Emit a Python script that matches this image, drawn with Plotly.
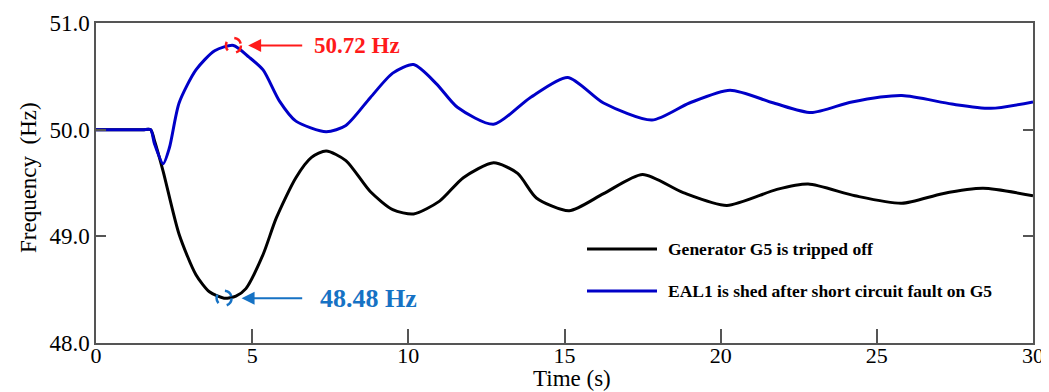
import plotly.graph_objects as go

# ---- data ----
t_gen = [0, 1.5, 1.75, 1.87, 2.15, 2.66, 3.2, 3.63, 4.1, 4.48, 4.8, 5.35, 5.77, 6.4, 6.9, 7.37, 8.0,
         8.78, 9.5, 10.17, 11.0, 11.76, 12.73, 13.5, 14.1, 15.15, 16.25, 17.5, 18.8,
         20.2, 21.8, 22.8, 24.3, 25.8, 27.1, 28.4, 30]
f_gen = [50.0, 50.0, 50.0, 49.90, 49.61, 49.02, 48.64, 48.48, 48.42, 48.44, 48.51, 48.83, 49.17, 49.55, 49.74, 49.80, 49.71,
         49.42, 49.25, 49.21, 49.33, 49.55, 49.69, 49.59, 49.36, 49.24, 49.40, 49.58, 49.41,
         49.29, 49.44, 49.49, 49.38, 49.31, 49.40, 49.45, 49.38]

t_eal = [0, 1.5, 1.75, 1.87, 2.15, 2.35, 2.66, 3.2, 3.8, 4.4, 4.9, 5.35, 5.87, 6.4, 7.37, 8.0,
         8.78, 9.5, 10.17, 10.9, 11.57, 12.73, 13.9, 15.1, 16.25, 17.8, 19.0, 20.3, 21.7, 22.9,
         24.2, 25.8, 27.4, 28.65, 30]
f_eal = [50.0, 50.0, 50.0, 49.87, 49.68, 49.83, 50.25, 50.56, 50.74, 50.79, 50.68, 50.56, 50.27, 50.08, 49.98, 50.04,
         50.30, 50.53, 50.61, 50.43, 50.21, 50.05, 50.30, 50.49, 50.25, 50.09, 50.25, 50.37, 50.25, 50.16,
         50.26, 50.32, 50.24, 50.20, 50.26]

names = ["Generator G5 is tripped off", "EAL1 is shed after short circuit fault on G5"]
peak = (4.4, 50.79)
trough = (4.1, 48.42)
peak_label = "50.72 Hz"
trough_label = "48.48 Hz"
x_title = "Time (s)"
y_title = "Frequency\u00a0\u00a0(Hz)"

x_ticks = [0, 5, 10, 15, 20, 25, 30]
y_ticks = [48, 49, 50, 51]

SERIF = "Liberation Serif, Times New Roman, serif"
BLUE = "#0000C8"
RED = "#FF1A1A"
LBLUE = "#1672C4"
AX = "#555555"

fig = go.Figure()
fig.add_trace(go.Scatter(x=t_gen, y=f_gen, mode="lines", name=names[0],
                         line=dict(color="black", width=3, shape="spline", smoothing=0.7),
                         showlegend=False))
fig.add_trace(go.Scatter(x=t_eal, y=f_eal, mode="lines", name=names[1],
                         line=dict(color=BLUE, width=3, shape="spline", smoothing=0.7),
                         showlegend=False))

shapes = []
# dashed circles at extremes
for (px, py), col in [(peak, RED), (trough, LBLUE)]:
    shapes.append(dict(type="circle", xref="x", yref="y", xsizemode="pixel", ysizemode="pixel",
                       xanchor=px, yanchor=py, x0=-7.5, x1=7.5, y0=-7.5, y1=7.5,
                       line=dict(color=col, width=2.5, dash="dash")))

# page pixel -> paper coords (plot area spans page x 96..1033, y 23..343)
def px2paper_x(p):
    return (p - 96) / 937.0

def px2paper_y(p):
    return (343 - p) / 320.0

for ypix, col in [(249, "black"), (291, BLUE)]:
    shapes.append(dict(type="line", xref="paper", yref="paper",
                       x0=px2paper_x(587), x1=px2paper_x(657),
                       y0=px2paper_y(ypix), y1=px2paper_y(ypix),
                       line=dict(color=col, width=3)))

annotations = []
# arrows
annotations.append(dict(x=4.87, y=peak[1], xref="x", yref="y", ax=6.65, ay=peak[1],
                        axref="x", ayref="y", text="", showarrow=True,
                        arrowhead=2, arrowsize=1.3, arrowwidth=2, arrowcolor=RED))
annotations.append(dict(x=4.66, y=trough[1], xref="x", yref="y", ax=6.65, ay=trough[1],
                        axref="x", ayref="y", text="", showarrow=True,
                        arrowhead=2, arrowsize=1.3, arrowwidth=2, arrowcolor=LBLUE))
annotations.append(dict(x=6.92, y=peak[1], xref="x", yref="y", xanchor="left", yanchor="middle",
                        text="<b>%s</b>" % peak_label, showarrow=False,
                        font=dict(family=SERIF, size=23, color=RED)))
annotations.append(dict(x=7.1, y=trough[1], xref="x", yref="y", xanchor="left", yanchor="middle",
                        text="<b>%s</b>" % trough_label, showarrow=False,
                        font=dict(family=SERIF, size=26, color=LBLUE)))
# legend texts
for ypix, name in [(249, names[0]), (291, names[1])]:
    annotations.append(dict(x=px2paper_x(666), y=px2paper_y(ypix), xref="paper", yref="paper",
                            xanchor="left", yanchor="middle", text="<b>%s</b>" % name,
                            showarrow=False, font=dict(family=SERIF, size=17.5, color="black")))
# axis titles
annotations.append(dict(x=px2paper_x(572), y=px2paper_y(378), xref="paper", yref="paper",
                        xanchor="center", yanchor="middle", text=x_title, showarrow=False,
                        font=dict(family=SERIF, size=23, color="black")))
annotations.append(dict(x=px2paper_x(28), y=px2paper_y(178), xref="paper", yref="paper",
                        xanchor="center", yanchor="middle", text=y_title, showarrow=False,
                        textangle=-90, font=dict(family=SERIF, size=23, color="black")))

# page has an 8px body margin, so the figure is offset by 8px
fig.update_layout(
    width=1041, height=384,
    margin=dict(l=88, r=16, t=15, b=49),
    paper_bgcolor="white", plot_bgcolor="white",
    font=dict(family=SERIF, color="black"),
    shapes=shapes, annotations=annotations,
    showlegend=False,
)
fig.update_xaxes(range=[0, 30], tickvals=x_ticks, ticks="inside", ticklen=14, tickwidth=1.5,
                 tickcolor=AX, showline=True, linecolor=AX, linewidth=1.5, mirror=True,
                 showgrid=False, zeroline=False, tickfont=dict(family=SERIF, size=22),
                 ticklabelstandoff=-8, automargin=False)
fig.update_yaxes(range=[48, 51], tickvals=y_ticks, tickformat=".1f", ticks="inside", ticklen=10,
                 tickwidth=1.5, tickcolor=AX, showline=True, linecolor=AX, linewidth=1.5,
                 mirror="ticks", showgrid=False, zeroline=False, automargin=False,
                 tickfont=dict(family=SERIF, size=23))

fig.write_html("out.html")
